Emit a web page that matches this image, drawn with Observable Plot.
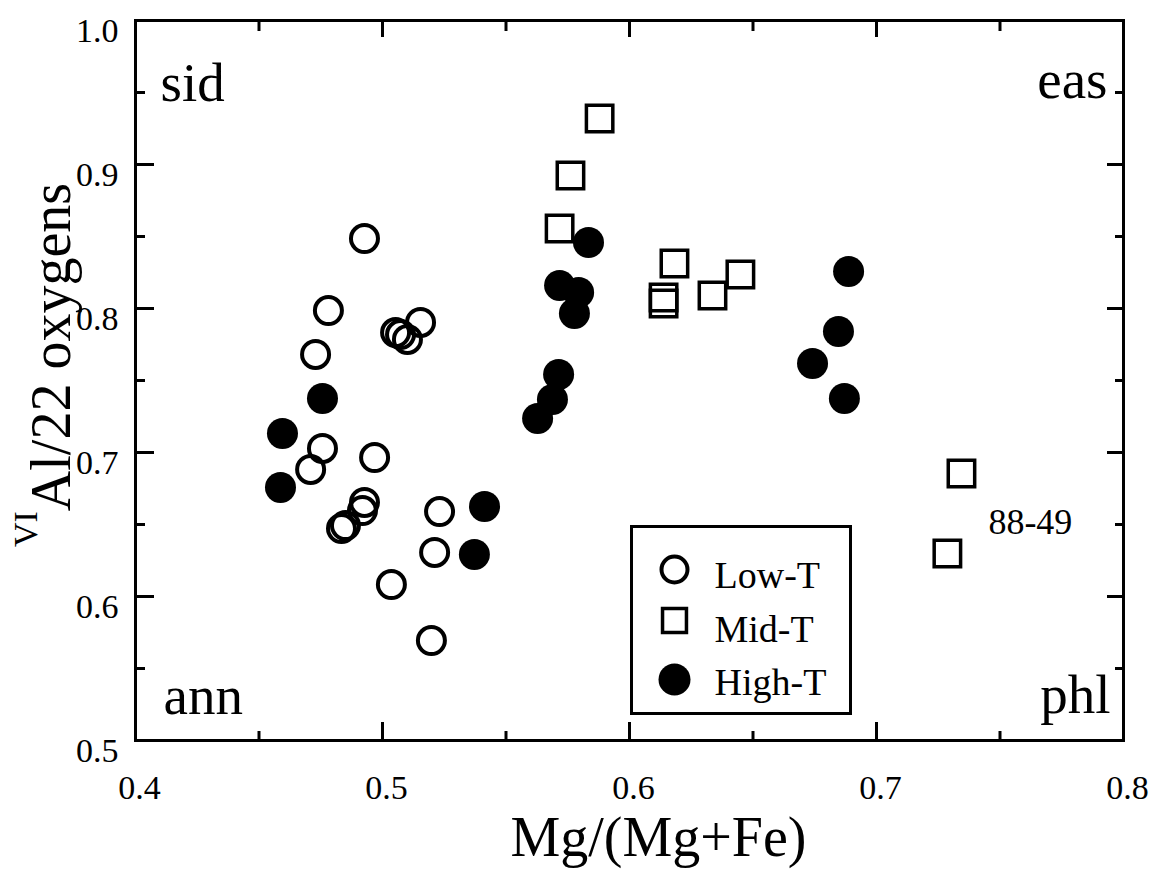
<!DOCTYPE html>
<html>
<head>
<meta charset="utf-8">
<script src="https://cdn.jsdelivr.net/npm/d3@7"></script>
<script src="https://cdn.jsdelivr.net/npm/@observablehq/plot@0.6"></script>
<style>
  html, body { margin: 0; padding: 0; background: #fff; }
  #chart { width: 1155px; height: 873px; }
</style>
</head>
<body>
<div id="chart"></div>
<script>
// ---- data ----
const lowX  = [0.4927, 0.4781, 0.4729, 0.5053, 0.5073, 0.5101, 0.5154, 0.4757, 0.4709, 0.4968, 0.4927, 0.4919, 0.4850, 0.4834, 0.5231, 0.5211, 0.5036, 0.5198];
const lowY  = [0.8486, 0.7986, 0.7681, 0.7833, 0.7819, 0.7785, 0.7903, 0.7028, 0.6882, 0.6965, 0.6653, 0.6597, 0.6493, 0.6472, 0.6590, 0.6306, 0.6083, 0.5694];
const midX  = [0.5879, 0.5761, 0.5717, 0.6182, 0.6138, 0.6138, 0.6336, 0.6449, 0.7344, 0.7287];
const midY  = [0.9319, 0.8924, 0.8556, 0.8313, 0.8076, 0.8035, 0.8090, 0.8236, 0.6854, 0.6299];
const highX = [0.4757, 0.4595, 0.4587, 0.5413, 0.5372, 0.5628, 0.5688, 0.5713, 0.5777, 0.5717, 0.5794, 0.5834, 0.6887, 0.6846, 0.6741, 0.6870];
const highY = [0.7375, 0.7132, 0.6757, 0.6625, 0.6292, 0.7236, 0.7368, 0.7542, 0.7965, 0.8160, 0.8111, 0.8458, 0.8257, 0.7840, 0.7618, 0.7375];

const xMajor = [0.4, 0.5, 0.6, 0.7, 0.8];
const xMinor = [0.45, 0.55, 0.65, 0.75];
const yMajor = [0.5, 0.6, 0.7, 0.8, 0.9, 1.0];
const yMinor = [0.55, 0.65, 0.75, 0.85, 0.95];

const cornerLabels = ["sid", "eas", "ann", "phl"];
const legendLabels = ["Low-T", "Mid-T", "High-T"];
const sampleLabel = ["88-49"];
const sampleX = [0.7623];
const sampleY = [0.6437];
const xTitle = "Mg/(Mg+Fe)";

const low  = lowX.map((x, i) => ({x, y: lowY[i]}));
const mid  = midX.map((x, i) => ({x, y: midY[i]}));
const high = highX.map((x, i) => ({x, y: highY[i]}));
const sample = sampleLabel.map((t, i) => ({t, x: sampleX[i], y: sampleY[i]}));

const FONT = "'Liberation Serif', 'Times New Roman', serif";
const fmt = d3.format(".1f");
const blank = () => "";

const legendDy = [-171, -120, -61];
const legendTextDy = [-153, -99, -46];

const chart = Plot.plot({
  width: 1155,
  height: 873,
  marginLeft: 135,
  marginRight: 32,
  marginTop: 20,
  marginBottom: 133,
  x: {domain: [0.4, 0.8]},
  y: {domain: [0.5, 1.0]},
  style: {fontFamily: FONT, background: "#fff", color: "#000"},
  marks: [
    // ticks (inward)
    Plot.axisX({anchor: "bottom", ticks: xMajor, tickSize: -18, tickFormat: blank, strokeWidth: 3, label: null}),
    Plot.axisX({anchor: "bottom", ticks: xMinor, tickSize: -9, tickFormat: blank, strokeWidth: 3, label: null}),
    Plot.axisX({anchor: "top", ticks: xMajor, tickSize: -16, tickFormat: blank, strokeWidth: 3, label: null}),
    Plot.axisX({anchor: "top", ticks: xMinor, tickSize: -10, tickFormat: blank, strokeWidth: 3, label: null}),
    Plot.axisY({anchor: "left", ticks: yMajor, tickSize: -19, tickFormat: blank, strokeWidth: 3, label: null}),
    Plot.axisY({anchor: "left", ticks: yMinor, tickSize: -10, tickFormat: blank, strokeWidth: 3, label: null}),
    Plot.axisY({anchor: "right", ticks: yMajor, tickSize: -17, tickFormat: blank, strokeWidth: 3, label: null}),
    Plot.axisY({anchor: "right", ticks: yMinor, tickSize: -9, tickFormat: blank, strokeWidth: 3, label: null}),
    // tick labels
    Plot.axisX({anchor: "bottom", ticks: xMajor, tickSize: 0, tickPadding: 34, dx: 4, tickFormat: fmt, fontSize: 34, label: null}),
    Plot.axisY({anchor: "left", ticks: yMajor, tickSize: 0, tickPadding: 17, dy: 11, tickFormat: fmt, fontSize: 34, label: null}),
    Plot.frame({stroke: "#000", strokeWidth: 3}),
    // corner labels
    Plot.text([cornerLabels[0]], {frameAnchor: "top-left", textAnchor: "start", lineAnchor: "bottom", dx: 25, dy: 80, fontSize: 55, fill: "#000"}),
    Plot.text([cornerLabels[1]], {frameAnchor: "top-right", textAnchor: "end", lineAnchor: "bottom", dx: -16, dy: 77, fontSize: 55, fill: "#000"}),
    Plot.text([cornerLabels[2]], {frameAnchor: "bottom-left", textAnchor: "start", lineAnchor: "bottom", dx: 28, dy: -27, fontSize: 55, fill: "#000"}),
    Plot.text([cornerLabels[3]], {frameAnchor: "bottom-right", textAnchor: "end", lineAnchor: "bottom", dx: -13, dy: -28, fontSize: 55, fill: "#000"}),
    // data
    Plot.dot(low, {x: "x", y: "y", r: 13.5, stroke: "#000", strokeWidth: 4, fill: "none"}),
    Plot.dot(mid, {x: "x", y: "y", symbol: "square", r: 14.9, stroke: "#000", strokeWidth: 3.5, fill: "none"}),
    Plot.dot(high, {x: "x", y: "y", r: 15.5, fill: "#000", stroke: "none"}),
    Plot.text(sample, {x: "x", y: "y", text: "t", textAnchor: "middle", lineAnchor: "bottom", fontSize: 36, fill: "#000"}),
    // legend
    Plot.frame({insetLeft: 496, insetRight: 273, insetTop: 506, insetBottom: 27, stroke: "#000", strokeWidth: 3, fill: "#fff"}),
    Plot.dot([legendLabels[0]], {frameAnchor: "bottom-left", dx: 539, dy: legendDy[0], r: 13, stroke: "#000", strokeWidth: 4, fill: "none"}),
    Plot.dot([legendLabels[1]], {frameAnchor: "bottom-left", dx: 539, dy: legendDy[1], symbol: "square", r: 13.5, stroke: "#000", strokeWidth: 3.5, fill: "none"}),
    Plot.dot([legendLabels[2]], {frameAnchor: "bottom-left", dx: 539, dy: legendDy[2], r: 16, fill: "#000", stroke: "none"}),
    ...legendLabels.map((t, i) => Plot.text([t], {frameAnchor: "bottom-left", textAnchor: "start", lineAnchor: "bottom", dx: 579, dy: legendTextDy[i], fontSize: 38, fill: "#000"})),
    // x title
    Plot.text([xTitle], {frameAnchor: "bottom", textAnchor: "middle", lineAnchor: "bottom", dx: 29, dy: 115, fontSize: 56, fill: "#000"})
  ]
});

document.getElementById("chart").appendChild(chart);

// y title with superscript
const svg = d3.select(chart);
const yt = svg.append("text")
  .attr("transform", "translate(70,365) rotate(-90)")
  .attr("text-anchor", "middle")
  .attr("fill", "#000")
  .style("font-family", FONT)
  .style("font-size", "56px");
yt.append("tspan").attr("dy", -33).style("font-size", "34px").text("VI");
yt.append("tspan").attr("dy", 33).text("Al/22 oxygens");
</script>
</body>
</html>
